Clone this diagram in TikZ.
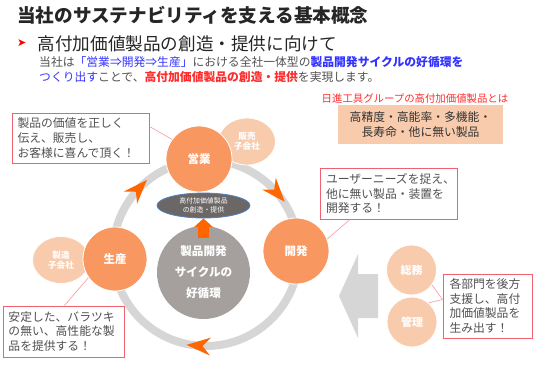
\documentclass[tikz,border=0pt]{standalone}
\usepackage{fontspec}
\setmainfont{Noto Sans CJK JP}
\newfontfamily\symfont{DejaVu Sans}
\usepackage{xcolor}
\usetikzlibrary{arrows.meta,shapes.geometric}

\definecolor{dept}{HTML}{F8975F}
\definecolor{subco}{HTML}{F8CBAD}
\definecolor{ringgray}{HTML}{D6D6D6}
\definecolor{hub}{HTML}{A5A09E}
\definecolor{hubdark}{HTML}{6B6766}
\definecolor{accent}{HTML}{FF6600}
\definecolor{boxred}{HTML}{F0606E}
\definecolor{linkred}{HTML}{F5A3AA}
\definecolor{txt}{HTML}{505050}
\definecolor{navy}{HTML}{3333FF}
\definecolor{hot}{HTML}{FF2B2B}

\begin{document}
\begin{tikzpicture}[
  x=1pt, y=-1pt,
  dept/.style={circle, fill=dept, draw=white, line width=0.8pt, minimum size=66pt,
               inner sep=0pt, text=white, font=\fontsize{11.5}{13}\selectfont\bfseries},
  subco/.style={ellipse, fill=subco, draw=white, line width=0.8pt, minimum width=57pt,
                minimum height=47pt, inner sep=0pt, text=white, align=center,
                font=\fontsize{8.6}{10.5}\selectfont\bfseries},
  staff/.style={circle, fill=subco, draw=white, line width=0.8pt, minimum size=50pt,
                inner sep=0pt, text=white, font=\fontsize{11}{13}\selectfont\bfseries},
  memo/.style={draw=boxred, line width=1pt, fill=white, inner xsep=5.5pt, inner ysep=0pt,
               align=left, text=txt, font=\fontsize{11.8}{14.6}\selectfont},
  link/.style={linkred, line width=0.7pt},
  chev/.style={fill=accent},
  plain/.style={inner sep=0pt, anchor=west},
]
  \useasboundingbox (0,0) rectangle (533,376);

  \node[plain, text=black!85, font=\fontsize{18.6}{20}\selectfont\bfseries] (title) at (17,15.5)
    {当社のサステナビリティを支える基本概念};
  \node[plain, text=red, font=\symfont\fontsize{11}{12}\selectfont] (mark) at (17,43.5) {➤};
  \node[plain, text=black!85, font=\fontsize{17.6}{20}\selectfont] (aim) at (37.5,43.5)
    {高付加価値製品の創造・提供に向けて};
  \node[inner sep=0pt, anchor=north west, align=left, text=txt,
        font=\fontsize{11.8}{14.6}\selectfont] (lead) at (39,56.5)
    {当社は{\color{navy}「営業⇒開発⇒生産」}における全社一体型の{\color{navy}\bfseries 製品開発サイクルの好循環を}\\
     {\color{navy}つくり出す}ことで、{\color{hot}\bfseries 高付加価値製品の創造・提供}を実現します。};

  \node[inner sep=0pt, text=hot, font=\fontsize{10.4}{12}\selectfont] (defn) at (415,98.5)
    {日進工具グループの高付加価値製品とは};
  \node[fill=subco, minimum width=165pt, minimum height=39pt, inner sep=0pt, align=center,
        text=black!80, font=\fontsize{11.8}{15.3}\selectfont] (spec) at (420.5,124.5)
    {高精度・高能率・多機能・\\長寿命・他に無い製品};

  \coordinate (hubc) at (206,253);
  \draw[ringgray, line width=8pt] (hubc) circle[radius=93pt];
  \foreach \a in {137,41,-94} {
    \fill[chev, shift={(hubc)}, rotate=\a, y=1pt]
      (93,-13) -- (84,11) -- (93,3) -- (102,11) -- cycle;
  }

  \fill[ringgray] (378,274) -- (358,274) -- (358,254) -- (339,296)
    -- (358,338) -- (358,318) -- (378,318) -- cycle;

  \node[subco] (sales) at (247,141.5) {販売\\子会社};
  \node[subco] (mfg)   at (61,260)    {製造\\子会社};

  \node[dept] (eigyo)  at (199,159) {営業};
  \node[dept] (kaihatsu) at (296,251) {開発};
  \node[dept, minimum size=64pt] (seisan) at (115,259) {生産};

  \node[staff] (somu)  at (411.5,270) {総務};
  \node[staff] (kanri) at (412,322)   {管理};

  \node[circle, fill=hub, minimum size=93pt, inner sep=0pt, align=center, text=white,
        font=\fontsize{11.6}{21}\selectfont\bfseries] (cycle) at (203.5,272.5)
    {製品開発\\サイクルの\\好循環};
  \node[ellipse, fill=hubdark, draw={rgb,255:red,80;green,130;blue,190}, line width=0.8pt,
        minimum width=93pt, minimum height=25pt, inner sep=0pt, align=center, text=white,
        font=\fontsize{6.9}{8.5}\selectfont] (goal) at (203.5,205.5)
    {高付加価値製品\\の創造・提供};
  \draw[accent, line width=11pt, -{Triangle[width=18pt, length=8.5pt]}]
    ([yshift=-12pt]cycle.north) -- (goal.south);

  \node[memo, text width=126pt, minimum height=50pt] (m1) at (80.5,138)
    {製品の価値を正しく\\伝え、販売し、\\お客様に喜んで頂く！};
  \node[memo, text width=126pt, minimum height=51pt] (m2) at (389,193.5)
    {ユーザーニーズを捉え、\\他に無い製品・装置を\\開発する！};
  \node[memo, text width=110pt, minimum height=51pt] (m3) at (63.5,331.5)
    {安定した、バラツキ\\の無い、高性能な製\\品を提供する！};
  \node[memo, text width=76pt, inner xsep=6.5pt, minimum height=64pt] (m4) at (487.5,306)
    {各部門を後方\\支援し、高付\\加価値製品を\\生み出す！};

  \draw[link] ([yshift=-14pt]m1.north east) -- (eigyo.144);
  \draw[link] ([xshift=30pt]m2.south west) -- (kaihatsu.21);
  \draw[link] ([xshift=62pt]m3.north west) -- (seisan.215);
  \draw[link] ([yshift=-26pt]m4.north west) -- (somu.-36);
  \draw[link] ([yshift=-26pt]m4.north west) -- (kanri.49);
\end{tikzpicture}
\end{document}
